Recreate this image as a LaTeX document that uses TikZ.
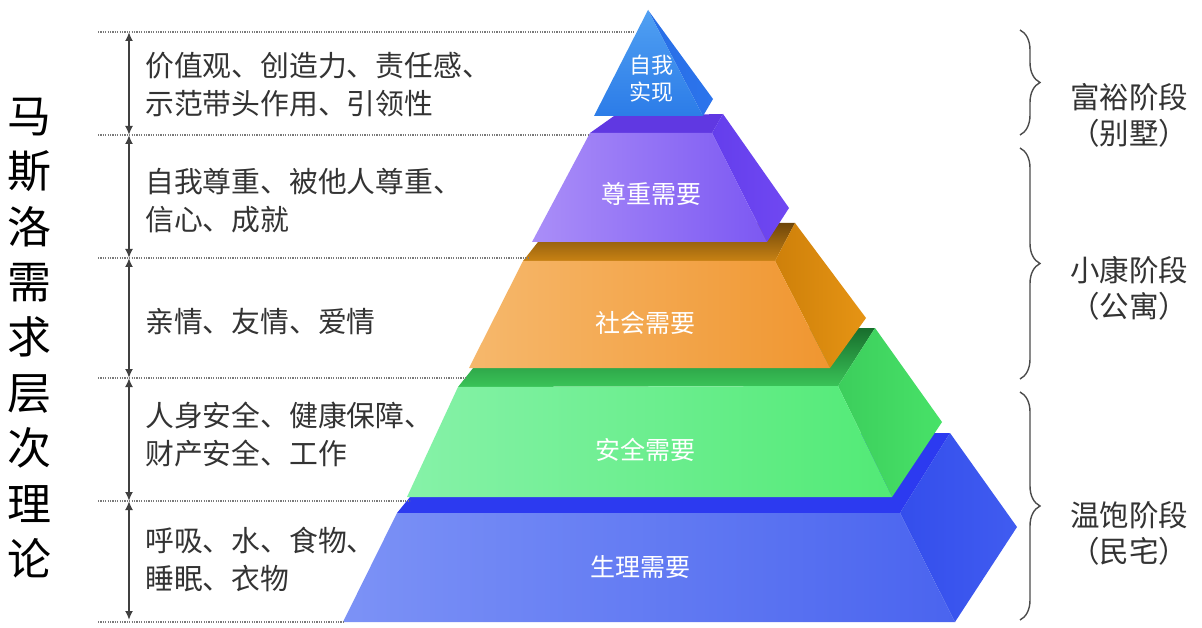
\documentclass[tikz,border=0pt]{standalone}
\usepackage{fontspec}
\newfontfamily\cjk{Noto Sans CJK SC}
\usetikzlibrary{arrows.meta,decorations.pathreplacing}
\definecolor{txtgray}{HTML}{333333}
\definecolor{linegray}{HTML}{7A7A7A}
\begin{document}
\begin{tikzpicture}[x=1pt,y=-1pt,
  lefttext/.style={anchor=west,align=left,inner sep=0pt,text=txtgray,font=\cjk\fontsize{28.8}{38}\selectfont},
  righttext/.style={align=center,inner sep=0pt,text=txtgray,font=\cjk\fontsize{29.5}{36}\selectfont},
  tiertext/.style={inner sep=0pt,text=white,font=\cjk\fontsize{25}{28}\selectfont},
  dotline/.style={linegray,line width=1.4pt,dash pattern=on 1.2pt off 1.2pt},
  dimarrow/.style={{Latex[length=9pt,width=8pt]}-{Latex[length=9pt,width=8pt]},line width=1.8pt,black!75},
  stagebrace/.style={decorate,decoration={brace,amplitude=20pt,aspect=0.5},line width=1.4pt,black!70}]
\useasboundingbox (0,0) rectangle (1202,628);
\fill[white] (0,0) rectangle (1202,628);

% ---------- blue tier ----------
\coordinate (bFTL) at (397,513); \coordinate (bFTR) at (900,513);
\coordinate (bFBR) at (955,622); \coordinate (bFBL) at (343,622);
\coordinate (bBTL) at (462,433); \coordinate (bBTR) at (950,433);
\coordinate (bBBR) at (1017,527);
\fill[color={rgb,255:red,44;green,58;blue,240}] (bFTL) -- (bBTL) -- (bBTR) -- (bFTR) -- cycle;
\shade[left color={rgb,255:red,52;green,78;blue,236},right color={rgb,255:red,64;green,92;blue,240}] (bFTR) -- (bBTR) -- (bBBR) -- (bFBR) -- cycle;
\shade[left color={rgb,255:red,124;green,146;blue,246},right color={rgb,255:red,74;green,100;blue,239}] (bFTL) -- (bFTR) -- (bFBR) -- (bFBL) -- cycle;

% ---------- green tier ----------
\coordinate (gFTL) at (458,387); \coordinate (gFTR) at (838,386);
\coordinate (gFBR) at (892,497); \coordinate (gFBL) at (407,497);
\coordinate (gBTL) at (505,328); \coordinate (gBTR) at (875,328);
\coordinate (gBBR) at (942,422);
\shade[top color={rgb,255:red,24;green,110;blue,45},bottom color={rgb,255:red,58;green,196;blue,88}] (gFTL) -- (gBTL) -- (gBTR) -- (gFTR) -- cycle;
\shade[left color={rgb,255:red,60;green,206;blue,92},right color={rgb,255:red,72;green,226;blue,104}] (gFTR) -- (gBTR) -- (gBBR) -- (gFBR) -- cycle;
\shade[left color={rgb,255:red,134;green,242;blue,168},right color={rgb,255:red,82;green,234;blue,118}] (gFTL) -- (gFTR) -- (gFBR) -- (gFBL) -- cycle;

% ---------- orange tier ----------
\coordinate (oFTL) at (523,261); \coordinate (oFTR) at (775,261);
\coordinate (oFBR) at (830,368); \coordinate (oFBL) at (469,368);
\coordinate (oBTL) at (553,223); \coordinate (oBTR) at (795,223);
\coordinate (oBBR) at (866,318);
\shade[top color={rgb,255:red,110;green,70;blue,10},bottom color={rgb,255:red,200;green,130;blue,20}] (oFTL) -- (oBTL) -- (oBTR) -- (oFTR) -- cycle;
\shade[left color={rgb,255:red,206;green,128;blue,10},right color={rgb,255:red,230;green,148;blue,20}] (oFTR) -- (oBTR) -- (oBBR) -- (oFBR) -- cycle;
\shade[left color={rgb,255:red,246;green,184;blue,108},right color={rgb,255:red,240;green,150;blue,48}] (oFTL) -- (oFTR) -- (oFBR) -- (oFBL) -- cycle;

% ---------- purple tier ----------
\coordinate (pFTL) at (590,133); \coordinate (pFTR) at (712,133);
\coordinate (pFBR) at (767,242); \coordinate (pFBL) at (532,242);
\coordinate (pBTL) at (614,116); \coordinate (pBTR) at (723,114);
\coordinate (pBBR) at (789,208);
\fill[color={rgb,255:red,96;green,56;blue,226}] (pFTL) -- (pBTL) -- (pBTR) -- (pFTR) -- cycle;
\shade[left color={rgb,255:red,100;green,62;blue,236},right color={rgb,255:red,112;green,72;blue,242}] (pFTR) -- (pBTR) -- (pBBR) -- (pFBR) -- cycle;
\shade[left color={rgb,255:red,170;green,142;blue,248},right color={rgb,255:red,124;green,88;blue,242}] (pFTL) -- (pFTR) -- (pFBR) -- (pFBL) -- cycle;

% ---------- top triangle ----------
\coordinate (tA) at (648,10); \coordinate (tL) at (594,116);
\coordinate (tF) at (703,116); \coordinate (tR) at (713,99);
\shade[left color={rgb,255:red,40;green,110;blue,230},right color={rgb,255:red,44;green,116;blue,236}] (tA) -- (tR) -- (tF) -- cycle;
\shade[top color={rgb,255:red,80;green,160;blue,242},bottom color={rgb,255:red,44;green,124;blue,232}] (tA) -- (tF) -- (tL) -- cycle;

% ---------- tier labels ----------
\node[tiertext,font=\cjk\fontsize{22}{27}\selectfont,align=center] (lab1) at (651,79) {自我\\实现};
\node[tiertext] (lab2) at (651,194) {尊重需要};
\node[tiertext] (lab3) at (645,323) {社会需要};
\node[tiertext] (lab4) at (645,450) {安全需要};
\node[tiertext] (lab5) at (640,567) {生理需要};

% ---------- dotted level lines ----------
\coordinate (d1a) at (98,32);  \coordinate (d1b) at (634,32);
\coordinate (d2a) at (98,135); \coordinate (d2b) at (590,135);
\coordinate (d3a) at (98,258); \coordinate (d3b) at (528,258);
\coordinate (d4a) at (98,378); \coordinate (d4b) at (467,378);
\coordinate (d5a) at (98,501); \coordinate (d5b) at (410,501);
\coordinate (d6a) at (98,622); \coordinate (d6b) at (343,622);
\draw[dotline] (d1a) -- (d1b);
\draw[dotline] (d2a) -- (d2b);
\draw[dotline] (d3a) -- (d3b);
\draw[dotline] (d4a) -- (d4b);
\draw[dotline] (d5a) -- (d5b);
\draw[dotline] (d6a) -- (d6b);

% ---------- dimension arrows ----------
\coordinate (a1) at (129,32);  \coordinate (a2) at (129,135);
\coordinate (a3) at (129,258); \coordinate (a4) at (129,378);
\coordinate (a5) at (129,501); \coordinate (a6) at (129,620);
\draw[dimarrow] (a1) -- (a2);
\draw[dimarrow] (a2) -- (a3);
\draw[dimarrow] (a3) -- (a4);
\draw[dimarrow] (a4) -- (a5);
\draw[dimarrow] (a5) -- (a6);

% ---------- left texts ----------
\node[lefttext] (n1) at (145,85) {价值观、创造力、责任感、\\示范带头作用、引领性};
\node[lefttext] (n2) at (145,201) {自我尊重、被他人尊重、\\信心、成就};
\node[lefttext] (n3) at (145,322) {亲情、友情、爱情};
\node[lefttext] (n4) at (145,434) {人身安全、健康保障、\\财产安全、工作};
\node[lefttext] (n5) at (145,559) {呼吸、水、食物、\\睡眠、衣物};

% ---------- title ----------
\node[inner sep=0pt,align=center,text=black,font=\cjk\fontsize{44}{55.4}\selectfont] (title) at (29,338)
  {马\\斯\\洛\\需\\求\\层\\次\\理\\论};

% ---------- braces ----------
\coordinate (b1t) at (1020,30);  \coordinate (b1b) at (1020,135);
\coordinate (b2t) at (1020,148); \coordinate (b2b) at (1020,379);
\coordinate (b3t) at (1020,392); \coordinate (b3b) at (1020,620);
\draw[stagebrace] (b1t) -- (b1b);
\draw[stagebrace] (b2t) -- (b2b);
\draw[stagebrace] (b3t) -- (b3b);

% ---------- stage texts ----------
\node[righttext] (s1) at (1129,115) {富裕阶段\\（别墅）};
\node[righttext] (s2) at (1129,288) {小康阶段\\（公寓）};
\node[righttext] (s3) at (1129,533) {温饱阶段\\（民宅）};
\end{tikzpicture}
\end{document}
